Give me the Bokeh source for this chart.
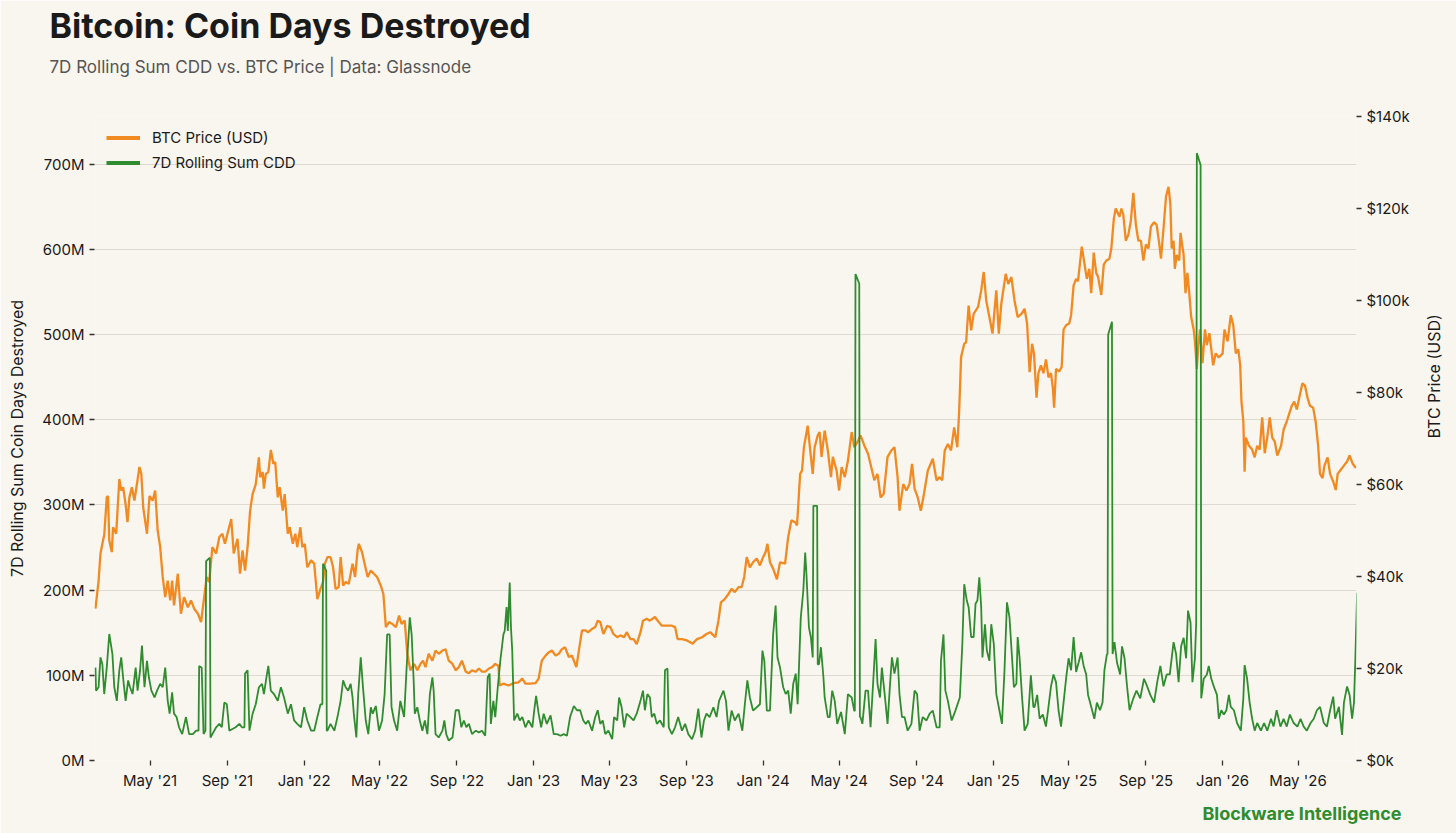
import re
from math import pi
from datetime import datetime
import numpy as np
import pandas as pd
from bokeh.plotting import figure
from bokeh.models import (Range1d, LinearAxis, FixedTicker, PrintfTickFormatter,
                          DatetimeTickFormatter, Title, Legend, LegendItem, ColumnDataSource)
from bokeh.embed import file_html
from bokeh.resources import INLINE

# ---------------- data ----------------
series_start = "2021-02-01"   # day 0 of the day offsets below

# BTC price: day offset from series_start, and price in USD thousands
price_day = [
    2, 7, 10, 14, 16, 20, 22, 24, 28, 30,
    35, 40, 43, 46, 50, 53, 56, 60, 64, 68,
    72, 75, 78, 84, 88, 93, 97, 101, 105, 109,
    113, 117, 121, 124, 127, 133, 138, 143, 149, 154,
    159, 165, 170, 175, 179, 183, 188, 194, 199, 204,
    208, 212, 218, 222, 228, 232, 236, 240, 244, 248,
    252, 257, 262, 264, 268, 270, 273, 277, 281, 285,
    288, 292, 295, 300, 303, 308, 311, 316, 320, 323,
    328, 331, 335, 339, 345, 350, 355, 360, 364, 367,
    371, 376, 380, 384, 389, 392, 396, 400, 405, 411,
    415, 419, 421, 426, 429, 435, 440, 445, 450, 456,
    460, 464, 469, 474, 480, 485, 489, 494, 498, 503,
    509, 514, 519, 523, 527, 532, 538, 543, 548, 554,
    559, 564, 570, 575, 580, 585, 591, 596, 601, 607,
    612, 617, 622, 628, 633, 638, 643, 645, 651, 659,
    667, 675, 681, 686, 694, 702, 707, 712, 718, 723,
    728, 734, 739, 744, 749, 755, 760, 767, 771, 776,
    781, 786, 792, 797, 801, 805, 810, 816, 821, 826,
    832, 837, 843, 847, 853, 858, 863, 869, 873, 879,
    884, 892, 898, 903, 911, 919, 924, 928, 935, 943,
    952, 959, 967, 974, 980, 988, 993, 997, 1003, 1009,
    1014, 1019, 1025, 1030, 1034, 1038, 1043, 1048, 1054, 1059,
    1064, 1068, 1071, 1075, 1080, 1086, 1091, 1099, 1104, 1109,
    1115, 1118, 1123, 1126, 1129, 1135, 1138, 1143, 1146, 1151,
    1154, 1157, 1162, 1167, 1172, 1175, 1181, 1185, 1189, 1194,
    1199, 1205, 1209, 1214, 1219, 1225, 1231, 1236, 1241, 1246,
    1251, 1256, 1262, 1268, 1273, 1278, 1281, 1287, 1292, 1297,
    1301, 1305, 1310, 1315, 1320, 1326, 1334, 1340, 1345, 1349,
    1353, 1358, 1363, 1368, 1373, 1376, 1379, 1384, 1387, 1391,
    1395, 1399, 1406, 1411, 1415, 1419, 1424, 1429, 1435, 1439,
    1443, 1450, 1454, 1459, 1464, 1469, 1475, 1480, 1484, 1488,
    1492, 1495, 1499, 1502, 1506, 1510, 1514, 1518, 1522, 1525,
    1527, 1530, 1535, 1539, 1542, 1546, 1551, 1554, 1558, 1562,
    1565, 1571, 1575, 1579, 1583, 1586, 1590, 1594, 1597, 1602,
    1606, 1610, 1615, 1618, 1622, 1625, 1631, 1634, 1637, 1641,
    1645, 1649, 1653, 1657, 1661, 1665, 1669, 1673, 1677, 1681,
    1686, 1690, 1694, 1697, 1701, 1705, 1709, 1712, 1714, 1717,
    1719, 1722, 1726, 1728, 1733, 1736, 1739, 1742, 1745, 1749,
    1751, 1754, 1756, 1759, 1763, 1767, 1770, 1774, 1777, 1780,
    1784, 1789, 1795, 1798, 1803, 1808, 1812, 1816, 1820, 1823,
    1825, 1828, 1830, 1832, 1837, 1842, 1846, 1850, 1854, 1858,
    1862, 1866, 1870, 1874, 1878, 1882, 1888, 1892, 1897, 1901,
    1905, 1909, 1913, 1917, 1922, 1926, 1930, 1934, 1939, 1943,
    1947, 1950, 1954, 1957, 1962, 1966, 1971, 1975, 1978, 1983,
    1988, 1993, 1997, 2002, 2007,
]
price_k = [
    33, 39, 45, 47.8, 49, 57.2, 57.5, 47.8, 45.3, 50.7,
    49.3, 61.2, 58.7, 59.4, 55.7, 51.8, 57.2, 59.4, 56.5, 60.1,
    63.8, 62.3, 55, 49.3, 57.5, 56.5, 58.7, 50, 46.4, 39.9,
    35.5, 39.1, 34.8, 39.1, 33.7, 40.6, 31.9, 35.5, 33.3, 34.8,
    33, 31.9, 30.1, 35.5, 39.9, 38.8, 46.4, 45, 48.6, 49.3,
    47.1, 49.3, 52.5, 45, 48.2, 40.6, 45.7, 41.3, 46.4, 54.3,
    57.9, 60.1, 65.9, 61.6, 62.7, 59.1, 62.3, 62.7, 67.5, 64.5,
    64.9, 57.2, 59.4, 54.3, 57.9, 49.3, 50.7, 47.1, 49.3, 46.4,
    50.7, 46.4, 47.1, 42, 43.5, 42.8, 35.1, 37.3, 38.8, 42.8,
    44.2, 44.2, 42, 37.3, 37.7, 44.2, 38, 38.8, 38.4, 42.8,
    39.9, 45.7, 47.1, 45.3, 43.5, 39.9, 41.3, 40.6, 39.9, 38,
    36.2, 29, 30.1, 29.7, 29, 31.5, 29.7, 30.4, 23.2, 19.6,
    21, 19.6, 21, 21.7, 20.3, 23.2, 21.7, 23.9, 23.2, 23.9,
    24.2, 21.7, 21, 19.6, 20.3, 21.7, 19.3, 19, 19.6, 19.3,
    20, 19.3, 19.3, 20, 20.3, 21, 20.6, 16.3, 16.7, 16.3,
    16.8, 17, 17.8, 16.7, 16.7, 16.8, 17.8, 21.7, 22.8, 23.5,
    23.9, 22.8, 23.2, 24.2, 24.6, 22.5, 22.8, 20.3, 23.9, 28.3,
    28.3, 27.9, 28.6, 29, 30.4, 30.1, 27.5, 29.3, 29, 27.5,
    26.8, 27.2, 26.8, 27.9, 26.4, 26.4, 25.3, 27.9, 30.4, 30.8,
    30.4, 31.2, 30.1, 29.3, 29.3, 29.3, 29, 26.4, 26.4, 26.1,
    25.4, 26.4, 26.8, 27.5, 27.9, 26.8, 30.4, 34.4, 35.1, 36.2,
    37.3, 36.6, 37.7, 37.7, 39.9, 44.2, 42, 43.1, 43.9, 42.4,
    44.2, 45.3, 47.1, 43.1, 41.7, 39.4, 43.1, 42.8, 48.6, 52.2,
    51.8, 51.1, 62.3, 63, 68.1, 72.8, 68.8, 62.3, 68.1, 70.7,
    71.4, 66, 71.7, 67.4, 61.6, 66, 63, 58.7, 63.8, 61.6,
    65.2, 71.4, 68.1, 69.2, 70.7, 68.5, 66.7, 63.8, 60.9, 62.3,
    57.2, 58, 66, 67.4, 68.1, 61.6, 54.3, 60.1, 58.7, 60.1,
    64.5, 59.1, 57.2, 54.3, 58, 63, 65.6, 60.9, 61.6, 60.9,
    67.4, 68.8, 67.4, 72.4, 68.1, 76.1, 87.7, 90.6, 90.9, 98.9,
    93.5, 97.1, 98.6, 102.2, 106.2, 100, 96.4, 92.8, 102.2, 92.8,
    99.3, 105.8, 103.6, 105.1, 100, 96.4, 97.1, 98.2, 95, 84.4,
    90.6, 88.4, 78.9, 84.2, 85.9, 84.2, 87.2, 83.3, 84.2, 80.9,
    76.7, 85.1, 84.6, 85.5, 93.7, 94.6, 95, 96.8, 103.3, 104.7,
    104.2, 111.7, 108.2, 104.7, 106.9, 101.6, 110.4, 106, 105.1, 101.2,
    107.8, 108.7, 109.1, 111.3, 117.8, 120, 118.2, 120, 118.7, 113,
    114.3, 117.3, 123.4, 116.5, 113, 113, 108.7, 112.2, 111.3, 116.1,
    117, 116.5, 112.6, 109.1, 115.6, 122.6, 124.7, 120.8, 111.3, 113,
    106.9, 109.9, 108.7, 114.7, 109.9, 101.6, 106, 101.6, 96.4, 93.7,
    91.1, 85.1, 89.4, 93.7, 86.4, 93.7, 90.3, 92.9, 89.4, 85.9,
    88.5, 87.6, 88.5, 93.7, 91.1, 96.8, 94.6, 88.5, 89.4, 85.9,
    78, 73.7, 62.8, 70.2, 68.4, 67.6, 65.9, 68.4, 67.6, 74.6,
    66.8, 70.2, 74.6, 70.2, 69.3, 66.3, 68.4, 71.9, 73.7, 75.4,
    77.1, 78, 76.3, 78.9, 82, 81.5, 78.9, 77.1, 76.7, 73.7,
    68.4, 62.3, 61.4, 64.1, 65.9, 62.3, 60.6, 58.8, 62.3, 63.2,
    64.1, 65, 66.3, 64.5, 63.6,
]

# 7D rolling sum CDD: day offset and value in millions (outside the spike weeks)
cdd_day = [
    2, 3, 7, 10, 13, 16, 20, 24, 29, 32,
    36, 40, 43, 47, 50, 54, 57, 61, 66, 69,
    73, 76, 80, 84, 87, 91, 96, 100, 105, 109,
    113, 117, 120, 124, 127, 131, 135, 140, 146, 151,
    157, 162, 166, 167, 171, 174, 188, 194, 199, 203,
    207, 211, 215, 220, 225, 231, 235, 239, 240, 244,
    247, 252, 257, 262, 267, 270, 274, 277, 281, 286,
    292, 297, 302, 308, 313, 318, 323, 329, 334, 339,
    345, 350, 355, 360, 371, 376, 382, 387, 392, 396,
    400, 404, 408, 411, 413, 417, 420, 424, 428, 432,
    436, 440, 443, 448, 453, 458, 462, 466, 470, 473,
    477, 482, 487, 493, 497, 502, 505, 508, 510, 514,
    518, 522, 526, 530, 534, 538, 540, 543, 548, 554,
    557, 560, 564, 570, 575, 580, 584, 588, 592, 596,
    601, 607, 612, 617, 622, 626, 629, 631, 635, 638,
    642, 646, 651, 653, 656, 658, 661, 663, 665, 668,
    673, 677, 681, 686, 691, 697, 700, 703, 707, 711,
    715, 720, 726, 731, 736, 742, 747, 752, 757, 763,
    768, 773, 778, 782, 786, 792, 797, 801, 805, 809,
    813, 818, 824, 827, 832, 835, 839, 843, 847, 853,
    858, 863, 869, 873, 876, 880, 884, 887, 891, 895,
    900, 906, 908, 912, 914, 919, 924, 929, 935, 940,
    945, 951, 956, 961, 966, 970, 974, 979, 985, 990,
    994, 1001, 1005, 1009, 1014, 1019, 1025, 1031, 1035, 1039,
    1043, 1048, 1054, 1059, 1063, 1066, 1070, 1075, 1080, 1084,
    1087, 1091, 1096, 1100, 1104, 1108, 1112, 1116, 1119, 1124,
    1128, 1131, 1133, 1137, 1140, 1153, 1156, 1160, 1162, 1167,
    1170, 1174, 1178, 1182, 1188, 1194, 1199, 1205, 1209, 1219,
    1222, 1227, 1231, 1235, 1239, 1243, 1246, 1250, 1253, 1258,
    1262, 1266, 1269, 1273, 1278, 1281, 1285, 1289, 1294, 1300,
    1305, 1309, 1313, 1318, 1324, 1329, 1334, 1340, 1345, 1347,
    1351, 1354, 1358, 1364, 1370, 1377, 1381, 1384, 1388, 1391,
    1395, 1399, 1402, 1405, 1408, 1411, 1413, 1417, 1420, 1424,
    1427, 1431, 1435, 1439, 1444, 1448, 1452, 1456, 1460, 1463,
    1467, 1469, 1472, 1476, 1480, 1485, 1490, 1494, 1496, 1500,
    1504, 1509, 1514, 1518, 1522, 1526, 1530, 1534, 1538, 1542,
    1546, 1550, 1554, 1558, 1562, 1566, 1570, 1574, 1578, 1581,
    1586, 1591, 1595, 1600, 1604, 1607, 1611, 1623, 1627, 1632,
    1635, 1639, 1643, 1647, 1653, 1658, 1664, 1670, 1675, 1680,
    1686, 1691, 1696, 1701, 1706, 1711, 1717, 1721, 1725, 1729,
    1733, 1737, 1740, 1744, 1747, 1751, 1765, 1770, 1773, 1777,
    1781, 1786, 1789, 1793, 1797, 1801, 1805, 1808, 1813, 1818,
    1824, 1828, 1830, 1834, 1838, 1842, 1846, 1850, 1856, 1861,
    1866, 1872, 1876, 1881, 1887, 1892, 1897, 1902, 1908, 1914,
    1919, 1924, 1929, 1935, 1940, 1945, 1950, 1956, 1961, 1966,
    1971, 1974, 1980, 1985, 1988, 1993, 1997, 2001, 2004, 2006,
    2009,
]
cdd_m = [
    109, 82, 86, 121, 113, 78, 109, 148.5, 125, 86,
    70, 106, 121, 90, 70, 94, 86, 78, 109, 82,
    106, 135, 86, 117, 97.7, 82, 74, 82, 90, 86,
    109, 70, 55, 80, 55, 51, 39, 31, 51, 31,
    31, 35, 35, 111, 109, 31, 31, 39, 43, 39,
    68, 66, 35, 37, 39, 43, 39, 39, 102, 106,
    35, 55, 66, 86, 90, 78, 97.7, 111, 82, 78,
    70, 86, 74, 55, 66, 47, 43, 39, 62.5, 47,
    35, 35, 51, 66, 35, 43, 35, 51, 70, 94,
    86, 82, 90, 74, 55, 27, 78, 121, 82, 47,
    31, 62.5, 55, 64, 35, 47, 78, 148, 148, 62.5,
    47, 35, 70, 51, 109, 168, 148, 97.7, 55, 62.5,
    47, 35, 47, 31, 78, 97.7, 82, 31, 27, 35,
    47, 31, 23.4, 27, 59, 59, 39, 47, 39, 43,
    31, 35, 33, 35, 29, 97.7, 102, 43, 70, 51,
    86, 117, 148, 152, 180, 152, 209, 156, 129, 47,
    55, 47, 51, 39, 47, 39, 59, 76, 55, 39,
    55, 43, 53, 31, 31, 29, 31, 29, 51, 64,
    59, 59, 47, 43, 47, 35, 51, 59, 43, 47,
    31, 35, 25, 51, 47, 74, 62.5, 39, 55, 51,
    47, 55, 70, 82, 59, 78, 74, 51, 55, 43,
    47, 39, 106, 108, 39, 31, 39, 51, 35, 43,
    31, 25, 35, 61, 27, 47, 55, 51, 62.5, 51,
    70, 82, 70, 35, 58.6, 47, 55, 35, 66, 94,
    74, 58.6, 62.5, 66, 129, 117, 58.6, 58.6, 148, 182,
    121, 109, 86, 78, 82, 55, 90, 102, 66, 168,
    199, 244, 219, 156, 145, 113, 133, 98, 74, 51,
    51, 82, 70, 43, 57, 31, 78, 74, 58.6, 51,
    43, 82, 82, 39, 90, 142.6, 90, 74, 109, 74,
    43, 90, 121, 102, 121, 78, 51, 51, 35, 43,
    82, 78, 35, 51, 47, 55, 58.6, 39, 39, 117,
    148, 82, 70, 47, 58.6, 74, 137, 207, 188, 180,
    145, 145, 184, 188, 215, 180, 121, 160, 129, 117,
    160, 137, 78, 62.5, 43, 105, 185.6, 168, 121, 86,
    90, 145, 121, 74, 35, 43, 100, 62.5, 63, 77,
    49, 54, 39.8, 63, 87, 101, 92, 59, 39.8, 68,
    96, 120, 106, 145, 104, 115, 127, 111, 101, 77,
    63, 49, 68, 59, 68, 106, 125, 139, 115, 101,
    134, 120, 87, 59, 73, 82, 73, 96, 87, 77,
    68, 92, 111, 87, 101, 101, 139, 125, 92, 134,
    144, 120, 176, 162, 92, 120, 96, 101, 111, 96,
    87, 77, 49, 59, 54, 59, 77, 63, 59, 44,
    35, 73, 112, 96, 68, 49, 35, 44, 35, 44,
    35, 49, 39.8, 59, 39.8, 49, 39.8, 54, 44, 39.8,
    49, 39.8, 35, 44, 49, 59, 63, 44, 39.8, 59,
    75, 49, 63, 30, 68, 87, 77, 49, 68, 115,
    197,
]

# one-week CDD spikes (plateaus of the 7-day rolling sum), millions
spike_start = ["2021-07-29", "2022-01-31", "2024-03-21", "2024-05-27", "2025-07-03", "2025-11-21"]
spike_end = ["2021-08-04", "2022-02-05", "2024-03-27", "2024-06-02", "2025-07-09", "2025-11-27"]
spike_top_start = [234, 231, 299, 571, 500, 713]
spike_top_end = [238, 223, 299, 560, 515, 699]
spike_foot_before = [35, 66, 121, 58, 125, 162]
spike_foot_after = [27, 35, 113, 51, 125, 73]

cdd_ticks = [0, 100, 200, 300, 400, 500, 600, 700]
price_ticks = [0, 20, 40, 60, 80, 100, 120, 140]
x_tick_dates = ["2021-05-01", "2021-09-01", "2022-01-01", "2022-05-01", "2022-09-01",
                "2023-01-01", "2023-05-01", "2023-09-01", "2024-01-01", "2024-05-01",
                "2024-09-01", "2025-01-01", "2025-05-01", "2025-09-01", "2026-01-01",
                "2026-05-01"]

# ---------------- style ----------------
BG = "#f9f5ef"
ORANGE = "#f28a22"
GREEN = "#2f8c2f"
DARK = "#1a1a1a"
FONT = "Inter"

# ---------------- assemble sources ----------------
t0 = pd.Timestamp(series_start)
price_dates = t0 + pd.to_timedelta(price_day, unit="D")
price_src = ColumnDataSource(dict(x=price_dates, y=price_k))

one_day = pd.Timedelta(days=1)
cdd_dates = t0 + pd.to_timedelta(cdd_day, unit="D")
keep = np.ones(len(cdd_dates), dtype=bool)
for s, e in zip(spike_start, spike_end):
    s, e = pd.Timestamp(s), pd.Timestamp(e)
    keep &= ~((cdd_dates >= s - one_day) & (cdd_dates <= e + one_day))
pts = [(d, v) for d, v, k in zip(cdd_dates, cdd_m, keep) if k]
for s, e, a, b, fb, fa in zip(spike_start, spike_end, spike_top_start, spike_top_end,
                              spike_foot_before, spike_foot_after):
    s, e = pd.Timestamp(s), pd.Timestamp(e)
    pts += [(s - one_day, fb), (s, a), (e, b), (e + one_day, fa)]
pts.sort(key=lambda t: t[0])
cdd_src = ColumnDataSource(dict(x=[t[0] for t in pts], y=[t[1] for t in pts]))

# ---------------- figure ----------------
p = figure(width=1456, height=833, x_axis_type="datetime",
           output_backend="svg", toolbar_location=None,
           x_range=Range1d(datetime(2021, 2, 1, 12), datetime(2026, 8, 2)),
           y_range=Range1d(0, 756),
           min_border_left=94, min_border_right=98, min_border_top=116, min_border_bottom=73,
           background_fill_color=BG, border_fill_color=BG, outline_line_color=None)
p.title.visible = False

p.extra_y_ranges = {"price": Range1d(0, 140)}
right_axis = LinearAxis(y_range_name="price")
p.add_layout(right_axis, "right")

p.yaxis[0].ticker = FixedTicker(ticks=cdd_ticks)
p.yaxis[0].formatter = PrintfTickFormatter(format="%dM")
right_axis.ticker = FixedTicker(ticks=price_ticks)
right_axis.formatter = PrintfTickFormatter(format="$%dk")

x_ticks_ms = [pd.Timestamp(d).value // 10**6 for d in x_tick_dates]
p.xaxis.ticker = FixedTicker(ticks=x_ticks_ms)
fmt = "%b '%y"
p.xaxis.formatter = DatetimeTickFormatter(days=fmt, months=fmt, years=fmt, hours=fmt,
                                          hourmin=fmt, minutes=fmt, minsec=fmt, seconds=fmt,
                                          milliseconds=fmt, microseconds=fmt)

for ax in [p.xaxis[0], p.yaxis[0], right_axis]:
    ax.axis_line_color = None
    ax.major_tick_line_color = "#333333"
    ax.major_tick_line_width = 1.3
    ax.major_tick_out = 5
    ax.major_tick_in = 0
    ax.minor_tick_line_color = None
    ax.major_label_text_font = FONT
    ax.major_label_text_font_size = "15px"
    ax.major_label_text_color = DARK
    ax.major_label_standoff = 5

left_axis = p.yaxis[0]
left_axis.axis_label = "7D Rolling Sum Coin Days Destroyed"
right_axis.axis_label = "BTC Price (USD)"
for ax, so in [(left_axis, 12), (right_axis, 21)]:
    ax.axis_label_text_font = FONT
    ax.axis_label_text_font_size = "16px"
    ax.axis_label_text_font_style = "normal"
    ax.axis_label_text_color = DARK
    ax.axis_label_standoff = so
try:
    right_axis.axis_label_orientation = pi / 2
except Exception:
    pass

p.xgrid.visible = False
p.ygrid.grid_line_color = "#dedad2"
p.ygrid.grid_line_width = 1

p.line("x", "y", source=price_src, y_range_name="price", color=ORANGE, line_width=2.3)
p.line("x", "y", source=cdd_src, color=GREEN, line_width=1.8)

# legend with thicker swatches (single undefined point, nothing drawn in the plot)
leg_price = p.line(x=price_dates[:1], y=[np.nan], color=ORANGE, line_width=4)
leg_cdd = p.line(x=price_dates[:1], y=[np.nan], color=GREEN, line_width=4)
legend = Legend(items=[LegendItem(label="BTC Price (USD)", renderers=[leg_price]),
                       LegendItem(label="7D Rolling Sum CDD", renderers=[leg_cdd])],
                location=(12, 585), orientation="vertical",
                glyph_width=34, glyph_height=25, label_height=25, label_standoff=12,
                spacing=0, padding=0, margin=0,
                border_line_color=None, background_fill_alpha=0,
                label_text_font=FONT, label_text_font_size="15px", label_text_color=DARK)
p.add_layout(legend)


def spacer(standoff):
    return Title(text=" ", text_font_size="1px", standoff=standoff)


# titles above the frame (first added sits nearest the frame)
p.add_layout(spacer(37.0), "above")
p.add_layout(Title(text="7D Rolling Sum CDD vs. BTC Price  |  Data: Glassnode", align="left",
                   offset=-45, standoff=0, text_font=FONT, text_font_size="17px",
                   text_font_style="normal", text_color="#555555",
                   text_baseline="alphabetic", vertical_align="bottom"), "above")
p.add_layout(spacer(6.0), "above")
p.add_layout(Title(text="Bitcoin: Coin Days Destroyed", align="left", offset=-45, standoff=0,
                   text_font=FONT, text_font_size="34px", text_font_style="bold",
                   text_color=DARK, text_baseline="bottom", vertical_align="bottom"), "above")

# footer below the x axis
p.add_layout(spacer(5), "below")
p.add_layout(Title(text="Blockware Intelligence", align="right", offset=-45, standoff=0,
                   text_font=FONT, text_font_size="18px", text_font_style="bold",
                   text_color=GREEN, text_baseline="alphabetic", vertical_align="bottom"), "below")

html = file_html(p, INLINE)
html = re.sub(r"<body([^>]*)>", r'<body\1 style="background-color:%s;">' % BG, html, count=1)
open("out.html", "w").write(html)
